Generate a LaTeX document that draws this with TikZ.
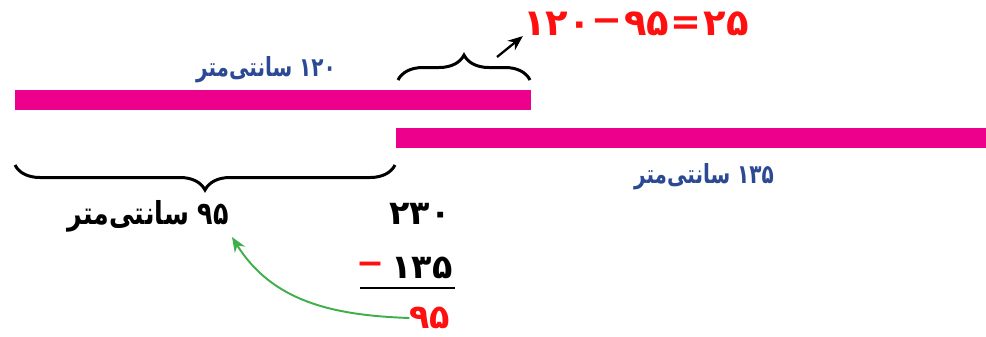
\documentclass[tikz,border=0pt]{standalone}
\usepackage{fontspec}
\usepackage{graphicx}
\usetikzlibrary{arrows.meta,decorations.pathreplacing}
\TeXXeTstate=1
\newfontfamily\fafont[Script=Arabic]{DejaVu Sans}
\newcommand{\narrow}[2]{\scalebox{#1}[1]{#2}}
\definecolor{barpink}{HTML}{EC008C}
\definecolor{lenblue}{HTML}{2B4A93}
\definecolor{sumred}{HTML}{FF1010}
\definecolor{backgreen}{HTML}{3FAF4A}

\begin{document}
\begin{tikzpicture}[x=0.02cm,y=-0.02cm,
  bar/.style={fill=barpink},
  lenlbl/.style={font=\fafont\bfseries\fontsize{15}{18}\selectfont,text=lenblue,inner sep=0pt},
  calcnum/.style={font=\fafont\bfseries\fontsize{19}{22}\selectfont,inner sep=0pt},
  eqtxt/.style={font=\fafont\bfseries\fontsize{21}{24}\selectfont,text=sumred,inner sep=0pt},
  brc/.style={decorate,decoration={brace,amplitude=0.5cm},line width=1.7pt},
  arr/.style={-{Stealth[length=3mm,width=2.4mm]},line width=1.3pt}]
\useasboundingbox (0,0) rectangle (986,336);
% the two strips
\fill[bar] (15,90) rectangle (531,110);
\fill[bar] (396,128) rectangle (986,148);
\node[lenlbl] (l120) at (266,70) {\narrow{0.76}{\beginR ۱۲۰ سانتی‌متر\endR}};
\node[lenlbl] (l135) at (704,177) {\narrow{0.76}{\beginR ۱۳۵ سانتی‌متر\endR}};
% braces
\draw[brc] (395,165) -- (15,165);
\draw[brc] (398,80) -- (530,80);
% 120 - 95 = 25
\node[eqtxt] (eqa) at (557,24) {۱۲۰};
\node[eqtxt] (eqminus) at (607,26) {−};
\node[eqtxt] (eqb) at (647,24) {۹۵};
\node[eqtxt] (eqis) at (686,26) {=};
\node[eqtxt] (eqres) at (726,24) {۲۵};
\coordinate (ubtail) at (497,57);
\draw[arr] (ubtail) -- (eqa.south west);
% subtraction
\node[calcnum,font=\fafont\bfseries\fontsize{18}{22}\selectfont] (l95) at (148,216) {\narrow{0.8}{\beginR ۹۵ سانتی‌متر\endR}};
\node[calcnum] (n230) at (420,214) {۲۳۰};
\node[calcnum] (n135) at (422,268) {۱۳۵};
\node[calcnum,text=sumred] (minus) at (370,268) {−};
\draw[line width=1.5pt] (360,288) -- (455,288);
\node[calcnum,text=sumred] (n95) at (430,318) {۹۵};
\coordinate (g95) at (232,237);
\draw[arr,backgreen,line width=1.1pt] (n95.west) to[out=178,in=-58] (g95);
\end{tikzpicture}
\end{document}
